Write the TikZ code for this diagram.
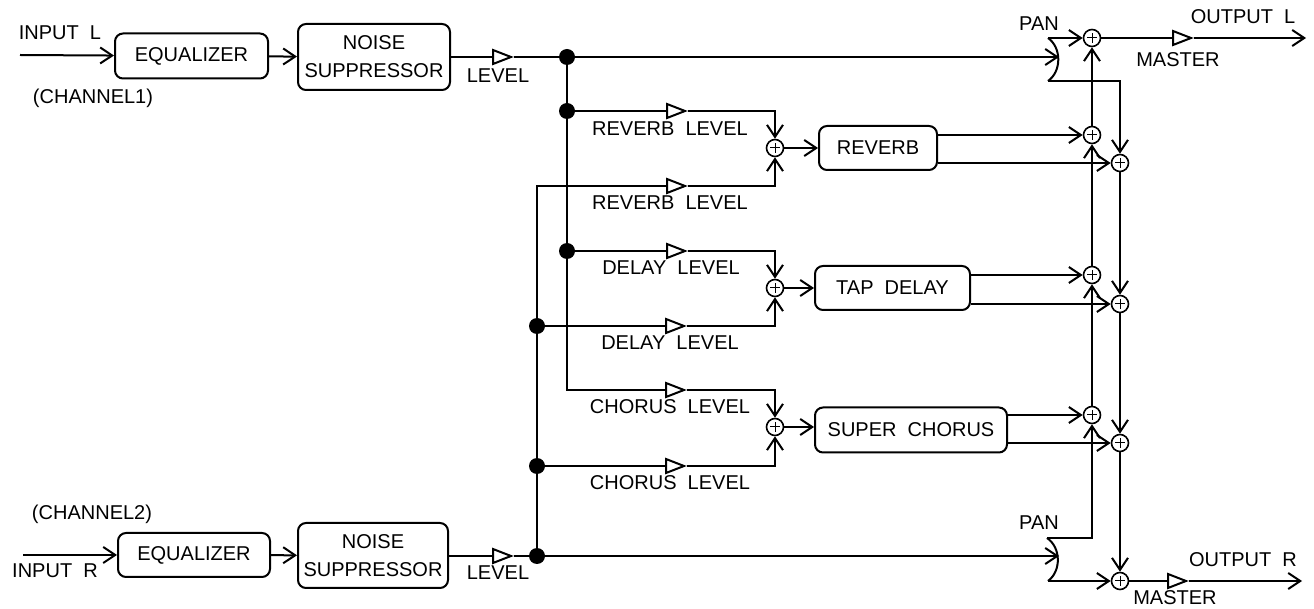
\documentclass[tikz,border=0pt]{standalone}
\usepackage{fontspec}
\setmainfont{Liberation Sans}
\usetikzlibrary{arrows.meta,shapes.geometric}
\tikzset{
  >={Straight Barb[length=6pt,width=8pt]},
  wire/.style={line width=1pt},
  blockbox/.style={draw,line width=1pt,rounded corners=4pt,inner sep=0pt,align=center},
  sumnode/.style={draw,circle,line width=0.8pt,minimum size=8.5pt,inner sep=0pt,
    path picture={\draw[line width=0.5pt] ([xshift=-2.4pt]path picture bounding box.center) -- ([xshift=2.4pt]path picture bounding box.center)
      ([yshift=-2.4pt]path picture bounding box.center) -- ([yshift=2.4pt]path picture bounding box.center);}},
  dotnode/.style={fill=black,circle,minimum size=8pt,inner sep=0pt},
  ampnode/.style={draw,line width=1pt,isosceles triangle,isosceles triangle stretches,
    minimum width=7pt,minimum height=9pt,inner sep=0pt,anchor=west},
  lbl/.style={font=\fontsize{10}{12}\selectfont,inner sep=0pt}
}
\begin{document}
\begin{tikzpicture}[x=0.5pt,y=-0.5pt]
    \useasboundingbox (0,0) rectangle (1314,609);
    % blocks
    \node[blockbox,lbl,minimum width=153pt/2,minimum height=22.5pt] (eqL) at (191.5,56) {EQUALIZER};
    \node[blockbox,lbl,minimum width=152pt/2,minimum height=33pt] (nsL) at (374,57) {NOISE\\[2pt]SUPPRESSOR};
    \node[blockbox,lbl,minimum width=152pt/2,minimum height=22pt] (eqR) at (194,555) {EQUALIZER};
    \node[blockbox,lbl,minimum width=150pt/2,minimum height=32.5pt] (nsR) at (373,555.5) {NOISE\\[2pt]SUPPRESSOR};
    \node[blockbox,lbl,minimum width=59pt,minimum height=22pt] (fxR) at (878,148) {REVERB};
    \node[blockbox,lbl,minimum width=77.5pt,minimum height=22pt] (fxD) at (892.5,288) {TAP\ \ DELAY};
    \node[blockbox,lbl,minimum width=96pt,minimum height=22.5pt] (fxC) at (911,430) {SUPER\ \ CHORUS};
    % level triangles
    \foreach \nm/\x/\y in {ampL/492/57,ampR/492/556,ampRa/666/111,ampRb/666/186,ampDa/666/251,
      ampDb/665/326,ampCa/665/390,ampCb/665/466,ampM/1172/38,ampN/1167/581}
      \node[ampnode] (\nm) at (\x,\y) {};
    % junctions
    \foreach \nm/\x/\y in {dotA/567/57,dotB/567/111,dotC/567/251,dotE/537/326,dotF/537/466,dotG/537/556}
      \node[dotnode] (\nm) at (\x,\y) {};
    % mixers
    \foreach \nm/\x/\y in {sumR/775/148,sumD/775/288,sumC/775/427,sumL/1092/38,sumRa/1092/135,sumDa/1092/275,
      sumCa/1092/415,sumRb/1120/163,sumDb/1120/304,sumCb/1120/443,sumB/1120/581}
      \node[sumnode] (\nm) at (\x,\y) {};
    % pan and free ends
    \coordinate (inL) at (20,55);
    \coordinate (inR) at (23,555);
    \coordinate (outL) at (1306,38);
    \coordinate (outR) at (1302,581);
    \coordinate (panLt) at (1048,38);
    \coordinate (panLm) at (1059,59);
    \coordinate (panLb) at (1048,81);
    \coordinate (panRt) at (1047,538);
    \coordinate (panRm) at (1059,559);
    \coordinate (panRb) at (1048,581);
    \draw[wire] (panLt) to[bend left=55] (panLb);
    \draw[wire] (panRt) to[bend left=55] (panRb);
    % channel 1
    \draw[wire,->] (inL) -- (eqL);
    \draw[wire,->] (eqL) -- (nsL);
    \draw[wire] (nsL.east |- ampL.west) -- (ampL.west);
    \draw[wire] (ampL.east) -- (dotA);
    \draw[wire,->] (dotA) -- (dotA -| panLm);
    \draw[wire] (dotA) -- (dotB) -- (dotC);
    % channel 2
    \draw[wire,->] (inR) -- (eqR);
    \draw[wire,->] (eqR) -- (nsR);
    \draw[wire] (nsR.east |- ampR.west) -- (ampR.west);
    \draw[wire] (ampR.east) -- (dotG);
    \draw[wire,->] (dotG) -- (dotG -| panRm);
    \draw[wire] (dotG) -- (dotF) -- (dotE);
    % sends
    \draw[wire] (dotB) -- (ampRa.west);
    \draw[wire] (dotE) |- (ampRb.west);
    \draw[wire] (dotC) -- (ampDa.west);
    \draw[wire] (dotE) -- (ampDb.west);
    \draw[wire] (dotC) |- (ampCa.west);
    \draw[wire] (dotF) -- (ampCb.west);
    \foreach \a/\b/\c/\f in {ampRa/ampRb/sumR/fxR,ampDa/ampDb/sumD/fxD,ampCa/ampCb/sumC/fxC} {
      \draw[wire,->] (\a.east) -| (\c);
      \draw[wire,->] (\b.east) -| (\c);
      \draw[wire,->] (\c) -- (\c -| \f.west);
    }
    % returns
    \foreach \f/\a/\b in {fxR/sumRa/sumRb,fxD/sumDa/sumDb,fxC/sumCa/sumCb} {
      \draw[wire,->] (\f.east |- \a) -- (\a);
      \draw[wire,->] (\f.east |- \b) -- (\b);
    }
    \draw[wire,->] (panRt) -| (sumCa);
    \draw[wire,->] (sumCa) -- (sumDa);
    \draw[wire,->] (sumDa) -- (sumRa);
    \draw[wire,->] (sumRa) -- (sumL);
    \draw[wire,->] (panLb) -| (sumRb);
    \draw[wire,->] (sumRb) -- (sumDb);
    \draw[wire,->] (sumDb) -- (sumCb);
    \draw[wire,->] (sumCb) -- (sumB);
    % outputs
    \draw[wire,->] (panLt) -- (sumL);
    \draw[wire,->] (panRb) -- (sumB);
    \draw[wire] (sumL) -- (ampM.west);
    \draw[wire,->] (ampM.east) -- (outL);
    \draw[wire] (sumB) -- (ampN.west);
    \draw[wire,->] (ampN.east) -- (outR);
    % labels
    \node[lbl] (tInL) at (60,33) {INPUT\ \ L};
    \node[lbl] (tInR) at (55,571) {INPUT\ \ R};
    \node[lbl] (tChA) at (93,98) {(CHANNEL1)};
    \node[lbl] (tChB) at (92,514) {(CHANNEL2)};
    \node[lbl] (tLvL) at (498,76) {LEVEL};
    \node[lbl] (tLvR) at (498,573) {LEVEL};
    \node[lbl] (tRa) at (670,129) {REVERB\ \ LEVEL};
    \node[lbl] (tRb) at (670,203) {REVERB\ \ LEVEL};
    \node[lbl] (tDa) at (671,268) {DELAY\ \ LEVEL};
    \node[lbl] (tDb) at (670,343) {DELAY\ \ LEVEL};
    \node[lbl] (tCa) at (670,407) {CHORUS\ \ LEVEL};
    \node[lbl] (tCb) at (670,483) {CHORUS\ \ LEVEL};
    \node[lbl] (tPanL) at (1039,24) {PAN};
    \node[lbl] (tPanR) at (1039,523) {PAN};
    \node[lbl] (tOutL) at (1243,17) {OUTPUT\ \ L};
    \node[lbl] (tOutR) at (1243,560) {OUTPUT\ \ R};
    \node[lbl] (tMsL) at (1178,60) {MASTER};
    \node[lbl] (tMsR) at (1175,598) {MASTER};
  \end{tikzpicture}
\end{document}
